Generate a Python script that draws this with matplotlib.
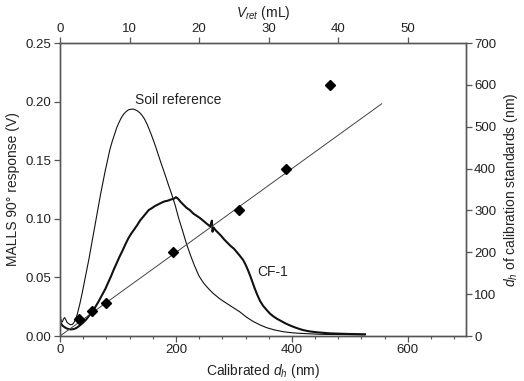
import numpy as np
import matplotlib
matplotlib.use("Agg")
from matplotlib import pyplot as plt
from matplotlib.ticker import MultipleLocator, FormatStrFormatter

plt.rcParams['font.family'] = ['Liberation Sans', 'DejaVu Sans']
plt.rcParams['mathtext.fontset'] = 'custom'
plt.rcParams['mathtext.it'] = 'Liberation Sans:italic'
plt.rcParams['mathtext.rm'] = 'Liberation Sans'

# MALLS response of the soil reference (V) vs calibrated d_h (nm)
soil_x = [0, 2, 4, 6, 8, 10, 12, 15, 18, 21, 24, 27, 30, 34, 38, 42, 46, 50,
          54, 58, 62, 66, 70, 74, 78, 82, 86, 90, 94, 98, 102, 106, 110, 114,
          118, 122, 126, 130, 134, 138, 142, 146, 150, 155, 160, 165, 170, 175,
          181, 187, 193, 199, 205, 211, 218, 225, 232, 240, 248, 256, 264, 275,
          287, 298, 310, 322, 333, 345, 356, 370, 385, 400, 414, 430, 450, 470,
          490, 508, 526]
soil_y = [0.019, 0.013, 0.012, 0.0145, 0.0157, 0.014, 0.0118, 0.0105, 0.0097,
          0.0098, 0.0115, 0.0145, 0.019, 0.027, 0.036, 0.046, 0.056, 0.066,
          0.077, 0.088, 0.099, 0.110, 0.121, 0.131, 0.141, 0.150, 0.159, 0.166,
          0.172, 0.178, 0.1825, 0.1865, 0.1895, 0.1915, 0.193, 0.1935, 0.1937,
          0.193, 0.192, 0.1903, 0.188, 0.185, 0.181, 0.175, 0.1685, 0.1615,
          0.154, 0.1465, 0.138, 0.129, 0.1205, 0.111, 0.100, 0.0905, 0.079,
          0.069, 0.060, 0.051, 0.045, 0.0405, 0.0365, 0.032, 0.028, 0.0245,
          0.0207, 0.016, 0.0125, 0.0095, 0.0072, 0.0052, 0.0037, 0.0028, 0.0023,
          0.0019, 0.0015, 0.0013, 0.0012, 0.0011, 0.001]

# MALLS response of CF-1
cf_x = [0, 4, 8, 12, 16, 20, 24, 28, 32, 36, 40, 45, 50, 55, 60, 66, 72, 78,
        83, 88, 93, 98, 103, 108, 113, 118, 123, 128, 133, 138, 143, 148, 153,
        158, 164, 170, 176, 181, 186, 191, 196, 200, 204, 208, 213, 218, 224,
        230, 236, 242, 248, 254, 259, 262, 263, 265, 268, 273, 278, 283, 288,
        294, 300, 306, 311, 316, 320, 324, 328, 332, 336, 340, 345, 350, 356,
        362, 368, 374, 380, 388, 396, 404, 412, 420, 430, 445, 465, 495, 526]
cf_y = [0.012, 0.009, 0.0075, 0.0064, 0.0058, 0.0057, 0.006, 0.0068, 0.0082,
        0.0098, 0.0115, 0.014, 0.0172, 0.0205, 0.024, 0.029, 0.0345, 0.040,
        0.0455, 0.051, 0.057, 0.0625, 0.068, 0.073, 0.0785, 0.0835, 0.0875,
        0.091, 0.0945, 0.0985, 0.1015, 0.1045, 0.1075, 0.109, 0.111, 0.1125,
        0.114, 0.115, 0.1155, 0.1165, 0.117, 0.1185, 0.117, 0.1145, 0.112,
        0.1095, 0.1075, 0.1045, 0.1025, 0.1005, 0.098, 0.0955, 0.0935, 0.0985,
        0.089, 0.0925, 0.0905, 0.088, 0.0855, 0.0825, 0.080, 0.077, 0.0745,
        0.071, 0.068, 0.0648, 0.061, 0.0565, 0.0515, 0.046, 0.0405, 0.0355,
        0.030, 0.026, 0.0225, 0.0192, 0.0168, 0.0148, 0.0132, 0.011, 0.0092,
        0.0076, 0.0062, 0.005, 0.004, 0.0031, 0.0023, 0.0018, 0.0015]

# calibration standards: calibrated d_h vs nominal d_h (nm)
std_x = [33, 55, 79, 195, 308, 389, 466]
std_y = [40, 60, 80, 200, 300, 400, 600]

# calibration line
cal_x = [0, 555]
cal_y = [0, 555]

grey = '#555555'
txt = '#222222'

fig = plt.figure(figsize=(5.24, 3.81), dpi=100)
ax = fig.add_axes([0.1145, 0.118, 0.7745, 0.769])
ax2 = ax.twinx()
ax3 = ax.twiny()

ax.plot(soil_x, soil_y, color='#111111', lw=0.8)
ax.plot(cf_x, cf_y, color='#111111', lw=1.5)
ax2.plot(cal_x, cal_y, color='#444444', lw=0.7)
ax2.plot(std_x, std_y, 'D', color='black', ms=5.5)

ax.set_xlim(0, 700)
ax.set_ylim(0, 0.25)
ax2.set_ylim(0, 700)
ax3.set_xlim(0, 700 / 12)

ax.xaxis.set_major_locator(MultipleLocator(200))
ax.xaxis.set_minor_locator(MultipleLocator(40))
ax.yaxis.set_major_locator(MultipleLocator(0.05))
ax.yaxis.set_major_formatter(FormatStrFormatter('%.2f'))
ax2.yaxis.set_major_locator(MultipleLocator(100))
ax3.xaxis.set_major_locator(MultipleLocator(10))

for a in (ax, ax2, ax3):
    for s in a.spines.values():
        s.set_color(grey)
        s.set_linewidth(0.9)
    a.tick_params(which='major', direction='out', length=4, width=0.9,
                  color=grey, labelsize=9.5, pad=2, labelcolor=txt)
    a.tick_params(which='minor', direction='out', length=2.5, width=0.8,
                  color=grey)

ax.set_xlabel('Calibrated $d_h$ (nm)', fontsize=10, labelpad=4, color=txt)
ax.set_ylabel('MALLS 90° response (V)', fontsize=10, labelpad=4, color=txt)
ax2.set_ylabel('$d_h$ of calibration standards (nm)', fontsize=10,
               labelpad=4, color=txt)
ax3.set_xlabel('$V_{ret}$ (mL)', fontsize=10, labelpad=4, color=txt)

ax.text(129, 0.201, 'Soil reference', fontsize=10, va='center', ha='left',
        color=txt)
ax.text(341, 0.0546, 'CF-1', fontsize=10, va='center', ha='left', color=txt)

fig.savefig('out.png', dpi=100)
